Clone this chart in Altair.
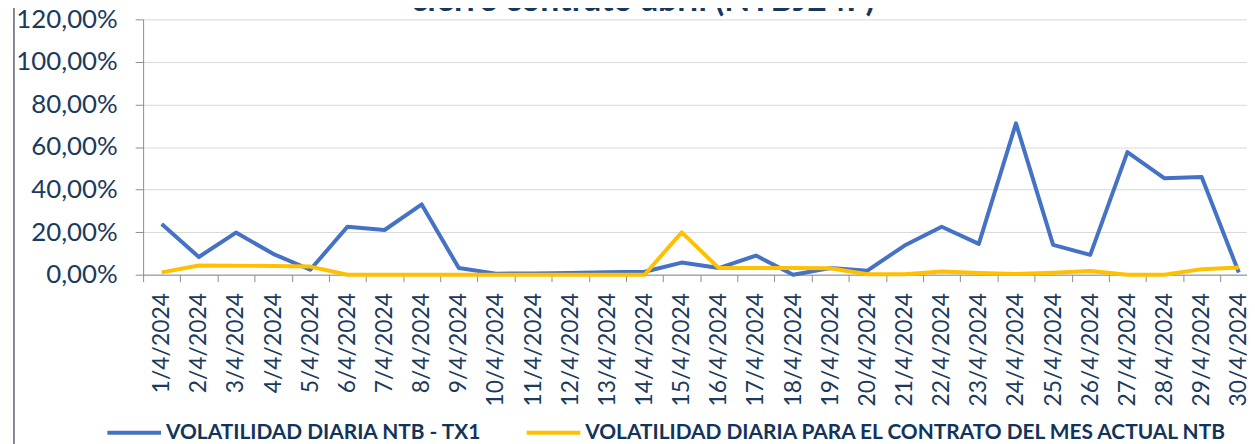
import json
import altair as alt
import pandas as pd

DATES = [f"{d}/4/2024" for d in range(1, 31)]
TX1 = [23.8, 8.3, 19.8, 9.8, 2.3, 22.5, 21.0, 33.0, 3.1, 0.5,
       0.6, 0.8, 1.2, 1.4, 5.7, 3.1, 9.0, 0.0, 3.1, 1.9,
       13.7, 22.5, 14.5, 71.1, 14.0, 9.3, 57.6, 45.3, 45.9, 1.0]
MES = [1.1, 4.3, 4.2, 4.1, 3.8, 0.0, 0.0, 0.0, 0.0, 0.0,
       0.0, 0.0, 0.0, 0.0, 19.9, 3.1, 3.1, 3.1, 3.0, 0.2,
       0.2, 1.5, 0.8, 0.3, 0.9, 1.7, 0.0, 0.0, 2.6, 3.4]
SERIES = ["VOLATILIDAD DIARIA NTB - TX1",
          "VOLATILIDAD DIARIA PARA EL CONTRATO DEL MES ACTUAL NTB"]
COLORS = ["#4472C4", "#FFC000"]
TITLE = "cierre contrato abril (NTBJ24F)"
Y_TICKS = [0.0, 0.2, 0.4, 0.6, 0.8, 1.0, 1.2]

rows = []
for i, d in enumerate(DATES):
    rows.append({"idx": i, "fecha": d, "serie": SERIES[0], "v": TX1[i] / 100})
    rows.append({"idx": i, "fecha": d, "serie": SERIES[1], "v": MES[i] / 100})
df = pd.DataFrame(rows)

W, H = 1111, 257
X_MIN, X_MAX = -0.5, 29.22
STEP = W / (X_MAX - X_MIN)

FONT = "Lato"
TXT = "#1B3A5C"

x_axis = alt.Axis(
    values=list(range(len(DATES))),
    labelExpr=json.dumps(DATES) + "[datum.value]",
    labelAngle=270, labelAlign="right", labelBaseline="middle",
    labelFont=FONT, labelFontSize=23, labelColor=TXT,
    labelPadding=11, labelOverlap=False, labelFlush=False,
    tickOffset=-STEP / 2, labelOffset=STEP / 2,
    tickSize=7, tickColor="#8C8C8C", domainColor="#8C8C8C",
    grid=False, title=None,
)
y_axis = alt.Axis(
    values=Y_TICKS,
    labelExpr="replace(format(datum.value, '.2%'), '.', ',')",
    labelFont=FONT, labelFontSize=26, labelColor=TXT, labelPadding=18,
    tickSize=8, tickColor="#8C8C8C", domainColor="#8C8C8C",
    grid=True, gridColor="#D9D9D9", title=None,
)

lines = alt.Chart(df).mark_line(strokeWidth=4, strokeJoin="round").encode(
    x=alt.X("idx:Q", scale=alt.Scale(domain=[X_MIN, X_MAX], nice=False, zero=False), axis=x_axis),
    y=alt.Y("v:Q", scale=alt.Scale(domain=[0, 1.2], nice=False), axis=y_axis),
    color=alt.Color(
        "serie:N",
        scale=alt.Scale(domain=SERIES, range=COLORS),
        legend=alt.Legend(
            orient="none", legendX=-38, legendY=387, direction="horizontal",
            title=None, symbolType="stroke", symbolStrokeWidth=4, symbolSize=2916,
            labelFont=FONT, labelFontSize=21, labelFontWeight="bold",
            labelColor="#13345A", labelLimit=1000, columnPadding=37,
            labelOffset=3, padding=0,
        ),
    ),
    order="idx:Q",
)

title = alt.Chart(pd.DataFrame({"t": [TITLE]})).mark_text(
    font=FONT, fontSize=34, fontWeight="bold", color="#17375E",
    align="center", baseline="alphabetic",
).encode(text="t:N", x=alt.value(503), y=alt.value(-8))

border = alt.Chart(pd.DataFrame({"a": [0]})).mark_rule(
    color="#56627A", strokeWidth=1.5
).encode(x=alt.value(-130), y=alt.value(-30), y2=alt.value(480))

chart = alt.layer(border, lines, title).properties(
    width=W, height=H,
    autosize=alt.AutoSizeParams(type="none"),
    padding={"left": 136, "top": 10, "right": 0, "bottom": 169},
    background="white",
).configure_view(stroke=None)

chart.save("out.html", embed_options={"renderer": "svg", "actions": False})
